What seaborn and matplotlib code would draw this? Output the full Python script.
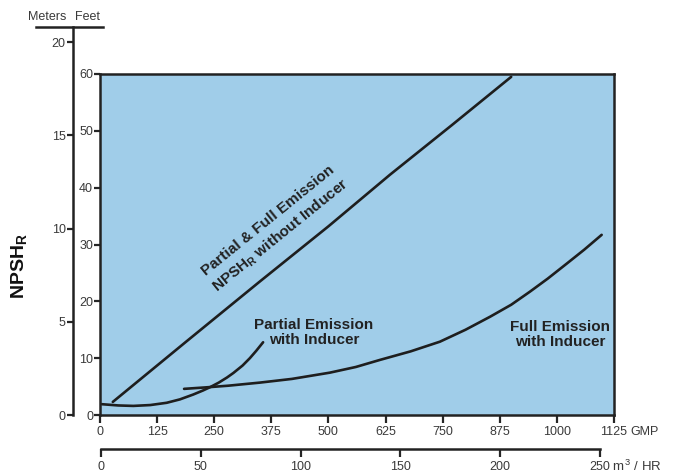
import matplotlib
matplotlib.use("Agg")
import matplotlib.pyplot as plt
import seaborn as sns

# -----------------------------
# Data (GPM vs feet)
# -----------------------------
no_inducer_gpm = [28, 190, 350, 500, 635, 770, 900]
no_inducer_ft = [2.3, 13.0, 23.5, 33.2, 42.3, 51.0, 59.5]

partial_gpm = [4, 40, 73, 110, 146, 175, 204, 225, 241, 260, 278, 292, 312, 328, 342, 357]
partial_ft = [1.9, 1.68, 1.6, 1.75, 2.15, 2.75, 3.6, 4.3, 4.9, 5.7, 6.6, 7.4, 8.7, 10.0, 11.3, 12.8]

full_gpm = [184, 230, 280, 350, 420, 503, 560, 613, 680, 744, 800, 854, 900, 941, 980, 1021, 1060, 1098]
full_ft = [4.6, 4.85, 5.15, 5.7, 6.35, 7.45, 8.45, 9.7, 11.2, 12.9, 15.0, 17.3, 19.4, 21.7, 24.0, 26.6, 29.1, 31.7]

gpm_ticks = [0, 125, 250, 375, 500, 625, 750, 875, 1000, 1125]
ft_ticks = [0, 10, 20, 30, 40, 50, 60]
m_ticks = [0, 5, 10, 15, 20]
m3hr_ticks = [0, 50, 100, 150, 200, 250]

FT_PER_M = 3.28084

sns.set_style("ticks")
plt.rcParams['font.family'] = ['Liberation Sans', 'DejaVu Sans']
plt.rcParams['mathtext.fontset'] = 'custom'
plt.rcParams['mathtext.rm'] = 'Liberation Sans'
plt.rcParams['mathtext.bf'] = 'Liberation Sans:bold'

W, H = 675, 476
fig = plt.figure(figsize=(W / 100, H / 100), dpi=100)

tick_col = '#3a3a3a'
line_col = '#1e1e1e'
blue = '#a0cde9'

# main axes: plot area 100..614 px wide, 74..415 px tall
ax = fig.add_axes([100 / W, 1 - 415 / H, 514 / W, 341 / H])
ax.set_facecolor(blue)

sns.lineplot(x=no_inducer_gpm, y=no_inducer_ft, ax=ax, color=line_col, lw=1.9)
sns.lineplot(x=partial_gpm, y=partial_ft, ax=ax, color=line_col, lw=1.9)
sns.lineplot(x=full_gpm, y=full_ft, ax=ax, color=line_col, lw=1.9)

ax.set_xlim(0, 1125)
ax.set_ylim(0, 60)
ax.set_xticks(gpm_ticks)
ax.set_yticks(ft_ticks)
for s in ax.spines.values():
    s.set_linewidth(1.8)
    s.set_color('#222222')
ax.tick_params(axis='x', length=6, width=1.6, pad=2, labelsize=9, labelcolor=tick_col)
ax.tick_params(axis='y', length=4, width=1.6, pad=1, labelsize=9, labelcolor=tick_col)
ax.annotate('GMP', xy=(1, 0), xycoords='axes fraction', xytext=(11.5, -14.5),
            textcoords='offset points', ha='left', va='baseline', fontsize=9, color=tick_col)

# curve labels
ax.text(383, 32.8, 'Partial & Full Emission\nNPSH$_\\mathbf{R}$ without Inducer',
        rotation=39, rotation_mode='anchor', ha='center', va='center',
        fontsize=11, fontweight='bold', color='#222222', linespacing=1.3)
ax.text(468, 14.5, 'Partial Emission\nwith Inducer', ha='center', va='center',
        fontsize=11, fontweight='bold', color='#222222', linespacing=1.1)
ax.text(1007, 14.1, 'Full Emission\nwith Inducer', ha='center', va='center',
        fontsize=11, fontweight='bold', color='#222222', linespacing=1.1)

# meters axis on the far left, extends above the plot
m_bottom, m_top_px = 415, 26.7
axm = fig.add_axes([36 / W, 1 - m_bottom / H, 67 / W, (m_bottom - m_top_px) / H])
axm.patch.set_visible(False)
axm.set_ylim(0, 60 * (m_bottom - m_top_px) / 341 / FT_PER_M)
axm.set_yticks(m_ticks)
axm.set_xticks([])
axm.spines['right'].set_visible(False)
axm.spines['bottom'].set_visible(False)
axm.spines['left'].set_position(('axes', (72.7 - 36) / 67))
axm.spines['left'].set_linewidth(1.8)
axm.spines['top'].set_linewidth(1.8)
axm.spines['left'].set_color('#222222')
axm.spines['top'].set_color('#222222')
axm.tick_params(axis='y', length=4, width=1.6, pad=1, labelsize=9, labelcolor=tick_col)

fig.text(47.5 / W, 1 - 17 / H, 'Meters', ha='center', va='center', fontsize=9, color=tick_col)
fig.text(88 / W, 1 - 17 / H, 'Feet', ha='center', va='center', fontsize=9, color=tick_col)
fig.text(20 / W, 1 - 266 / H, 'NPSH$_\\mathbf{R}$', rotation=90, ha='center', va='center',
         fontsize=14, fontweight='bold', color='#111111')

# m3/hr axis below
axq = fig.add_axes([101 / W, 1 - 449 / H, 499 / W, 0.001])
axq.patch.set_visible(False)
axq.set_xlim(0, 250)
axq.set_xticks(m3hr_ticks)
axq.set_yticks([])
for k in ['top', 'left', 'right']:
    axq.spines[k].set_visible(False)
axq.spines['bottom'].set_linewidth(1.8)
axq.spines['bottom'].set_color('#222222')
axq.tick_params(axis='x', length=6, width=1.6, pad=3, labelsize=9, labelcolor=tick_col)
axq.annotate('m$^{\\,3}$ / HR', xy=(1, 0), xycoords='axes fraction', xytext=(9, -15.5),
             textcoords='offset points', ha='left', va='baseline', fontsize=9.5, color=tick_col)

fig.savefig('out.png', dpi=100)
